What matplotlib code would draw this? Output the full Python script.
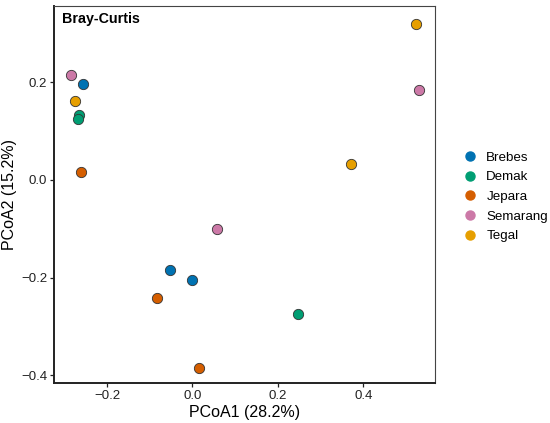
import numpy as np
import matplotlib.pyplot as plt
from matplotlib.lines import Line2D

plt.rcParams['font.family'] = ['Liberation Sans', 'DejaVu Sans']

# PCoA scores
groups = ["Brebes", "Demak", "Jepara", "Semarang", "Tegal"]
colors = ["#0072B2", "#009E73", "#D55E00", "#CC79A7", "#E69F00"]

brebes_x = [-0.256, -0.052, -0.002]
brebes_y = [0.197, -0.184, -0.204]
demak_x = [-0.265, -0.267, 0.247]
demak_y = [0.133, 0.125, -0.275]
jepara_x = [-0.260, -0.084, 0.015]
jepara_y = [0.016, -0.241, -0.385]
semarang_x = [-0.284, 0.057, 0.530]
semarang_y = [0.215, -0.100, 0.184]
tegal_x = [-0.274, 0.371, 0.523]
tegal_y = [0.162, 0.033, 0.319]

xs = [brebes_x, demak_x, jepara_x, semarang_x, tegal_x]
ys = [brebes_y, demak_y, jepara_y, semarang_y, tegal_y]

xticks = [-0.2, 0.0, 0.2, 0.4]
yticks = [-0.4, -0.2, 0.0, 0.2]


fig = plt.figure(figsize=(5.5, 4.23), dpi=100)
ax = fig.add_axes([0.0982, 0.0939, 0.6927, 0.8919])

for g, c, x, y in zip(groups, colors, xs, ys):
    ax.scatter(x, y, s=55, color=c, edgecolor="#333333", linewidth=0.6, zorder=3)

ax.set_xlim(-0.324, 0.568)
ax.set_ylim(-0.416, 0.356)
ax.set_xticks(xticks)
ax.set_yticks(yticks)
ax.set_xticklabels(["\u22120.2", "0.0", "0.2", "0.4"])
ax.set_yticklabels(["\u22120.4", "\u22120.2", "0.0", "0.2"])
ax.tick_params(length=3, width=0.9, labelsize=9.5, colors="#222222", pad=2)

for side in ["left", "bottom"]:
    ax.spines[side].set_linewidth(1.4)
    ax.spines[side].set_color("#222222")
for side in ["top", "right"]:
    ax.spines[side].set_linewidth(0.8)
    ax.spines[side].set_color("#444444")

ax.set_xlabel("PCoA1 (28.2%)", fontsize=11.5, labelpad=2)
ax.set_ylabel("PCoA2 (15.2%)", fontsize=11.5, labelpad=3)
ax.text(0.022, 0.985, "Bray-Curtis", transform=ax.transAxes, fontsize=10.3,
        fontweight="bold", ha="left", va="top")

handles = [Line2D([], [], marker="o", linestyle="", markersize=6.5,
                  markerfacecolor=c, markeredgecolor=c) for c in colors]
fig.legend(handles, groups, loc="center left", bbox_to_anchor=(0.82, 0.535),
           frameon=False, fontsize=9.6, handletextpad=0.75, labelspacing=0.55,
           handlelength=1.0)

fig.savefig("out.png", dpi=100)
